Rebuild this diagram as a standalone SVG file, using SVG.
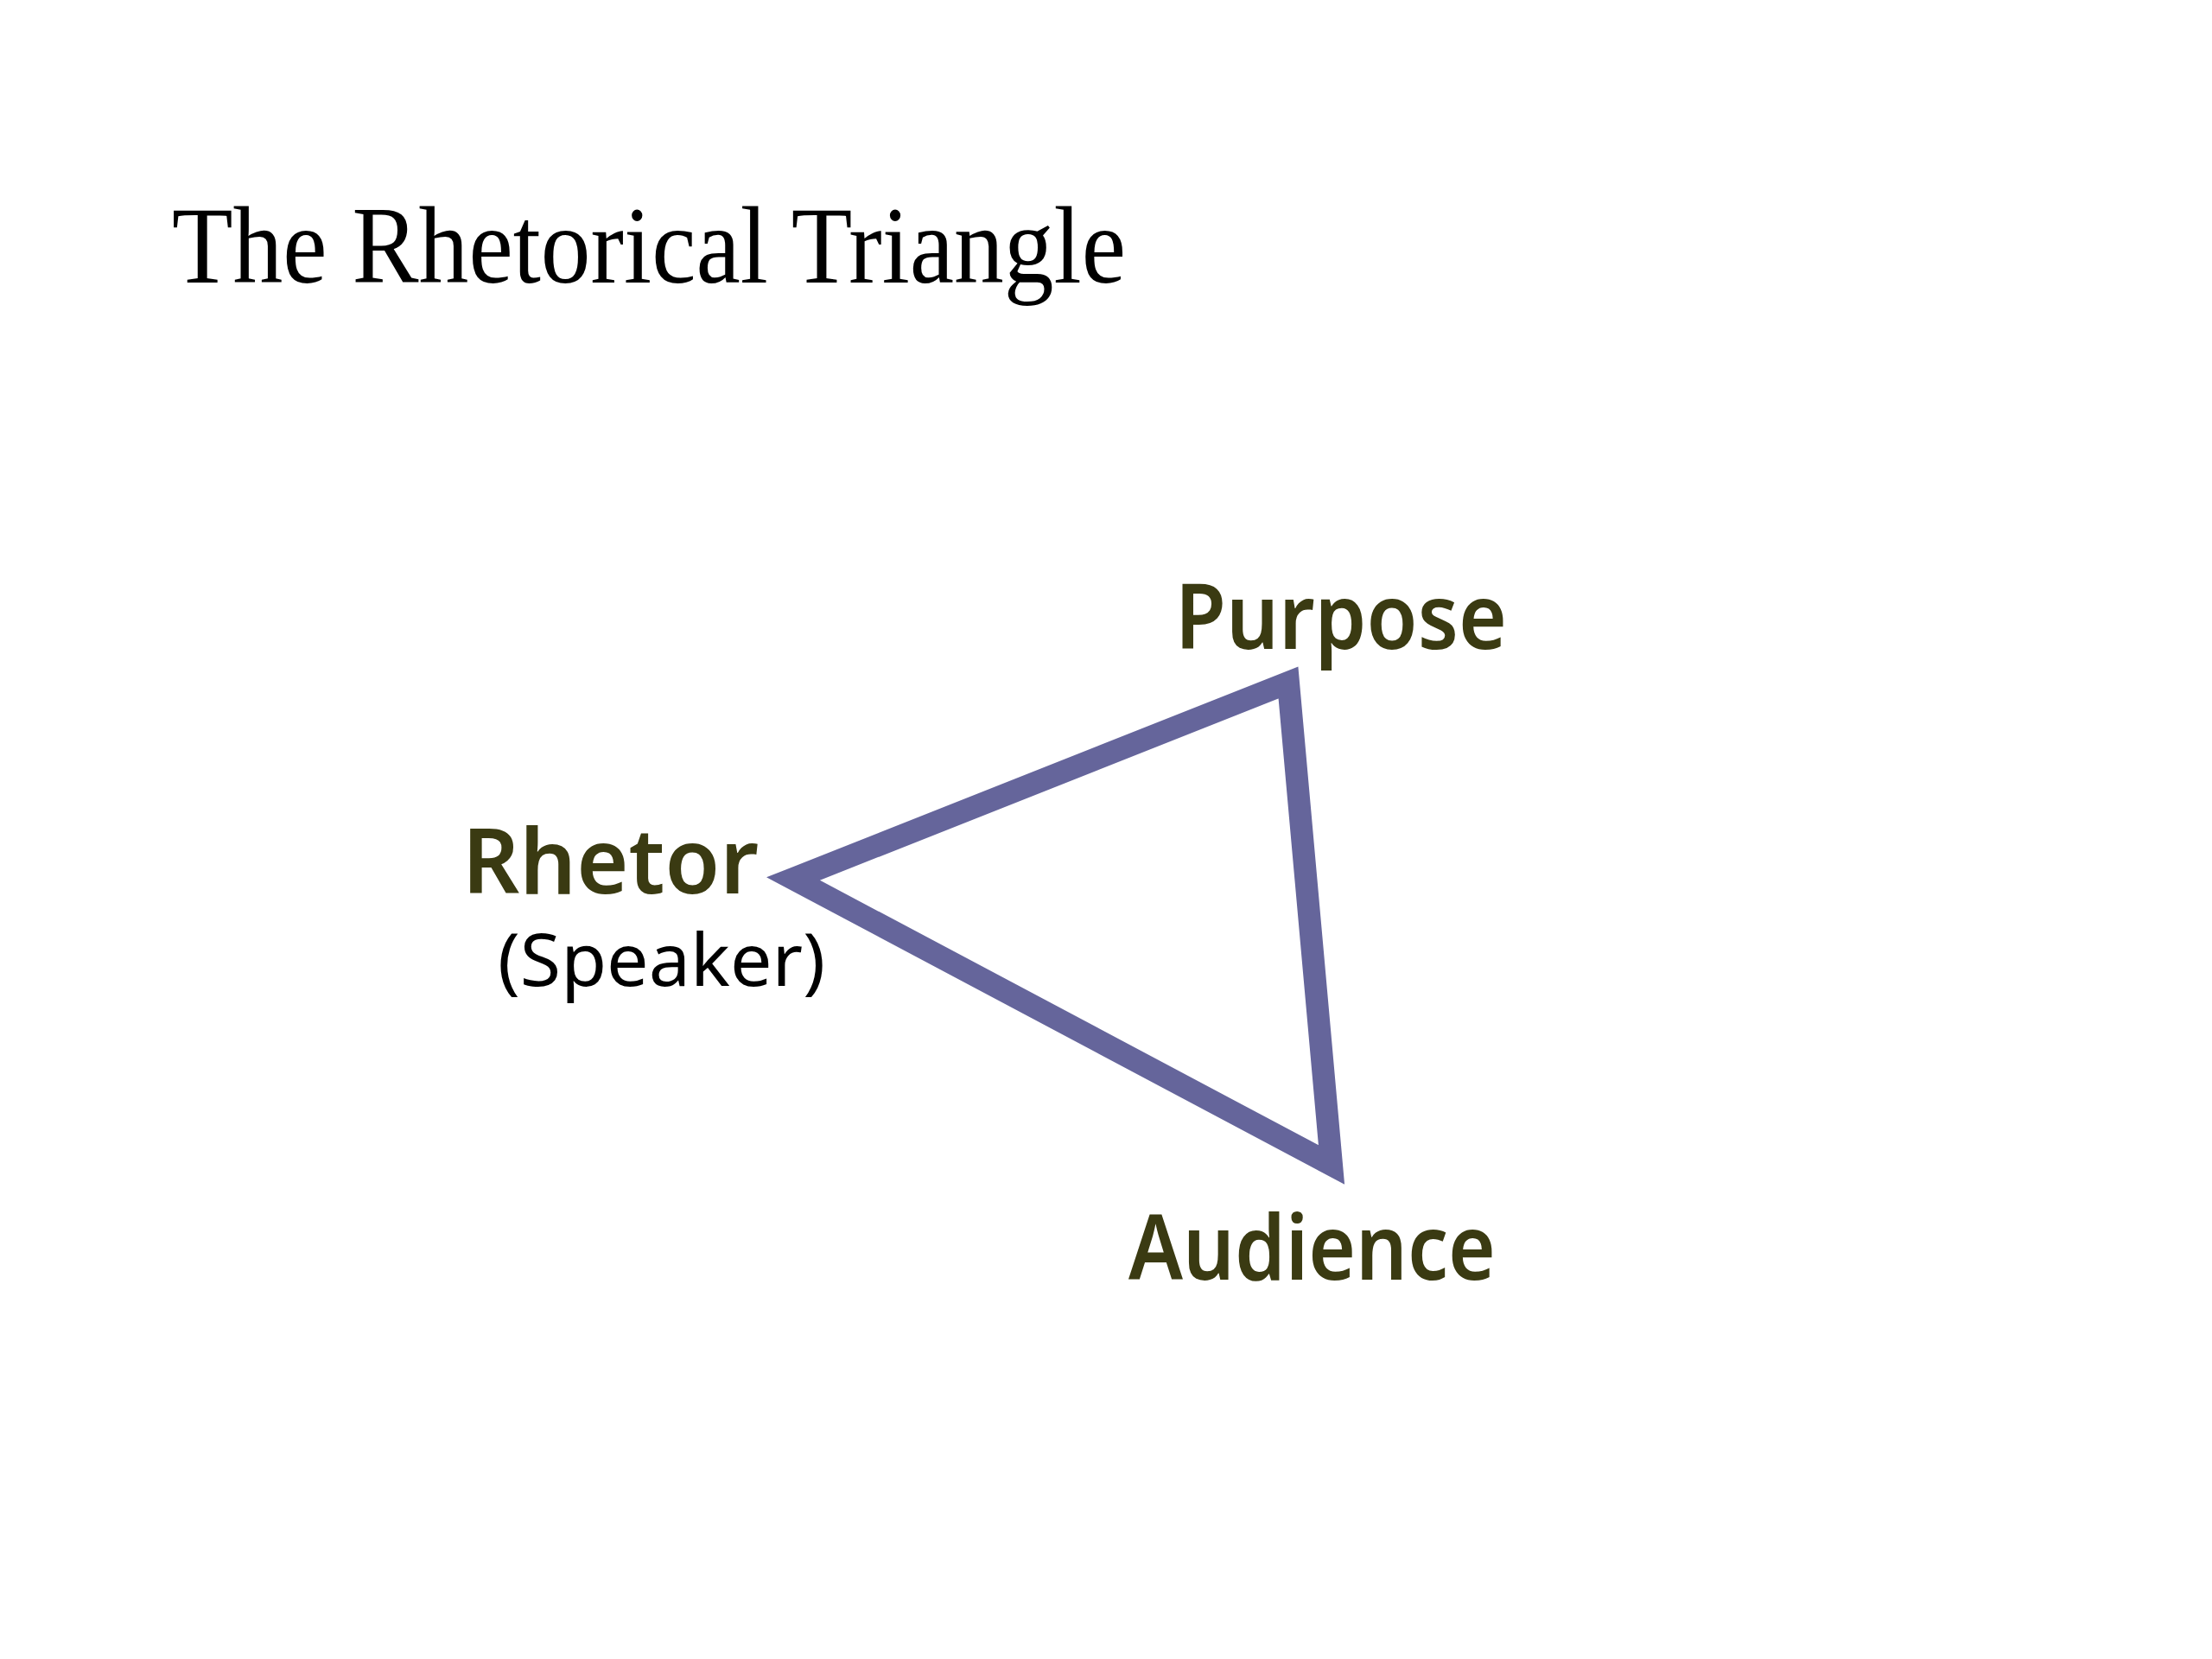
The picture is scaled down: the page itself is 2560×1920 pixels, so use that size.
<svg xmlns="http://www.w3.org/2000/svg" width="2560" height="1920" viewBox="0 0 2560 1920">
<style>
.title{font-family:"Liberation Serif","DejaVu Serif",serif;font-size:128px;fill:#000}
.lbl{font-family:"Noto Sans","Open Sans",sans-serif;font-weight:600;font-size:104px;fill:#3a3a12}
.sub{font-family:"Noto Sans","Open Sans",sans-serif;font-weight:400;font-size:84px;fill:#000}
.tri{fill:none;stroke:#65659b;stroke-width:26;stroke-linejoin:miter}
</style>
<rect width="2560" height="1920" fill="#fff"/>
<text id="title" class="title" x="199" y="327" textLength="1104" lengthAdjust="spacingAndGlyphs">The Rhetorical Triangle</text>
<g id="connectors">
<polygon class="tri" points="918,1017 1491,790 1541,1348"/>
</g>
<g id="node-purpose"><text class="lbl" x="1360" y="751" textLength="384" lengthAdjust="spacingAndGlyphs">Purpose</text></g>
<g id="node-rhetor"><text class="lbl" x="535" y="1034" textLength="343" lengthAdjust="spacingAndGlyphs">Rhetor</text>
<text class="sub" x="576" y="1141" textLength="379" lengthAdjust="spacingAndGlyphs">(Speaker)</text></g>
<g id="node-audience"><text class="lbl" x="1306" y="1481" textLength="425" lengthAdjust="spacingAndGlyphs">Audience</text></g>
</svg>
